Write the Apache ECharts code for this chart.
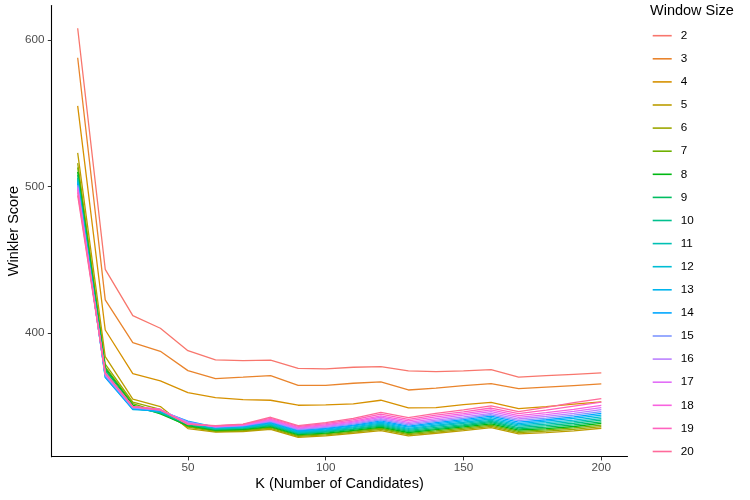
<!DOCTYPE html>
<html>
<head>
<meta charset="utf-8">
<script src="https://cdn.jsdelivr.net/npm/echarts@6/dist/echarts.min.js"></script>
<style>html,body{margin:0;padding:0;background:#fff}#c{width:750px;height:500px}</style>
</head>
<body>
<div id="c"></div>
<script>
const kValues = [10,20,30,40,50,60,70,80,90,100,110,120,130,140,150,160,170,180,190,200];
const windowSizes = ['2','3','4','5','6','7','8','9','10','11','12','13','14','15','16','17','18','19','20'];
const xTicks = [50,100,150,200];
const yTicks = [400,500,600];

const w2  = [608,443.6,412,403.4,388.1,381.8,381.3,381.6,376.1,375.7,376.8,377.2,374.3,373.8,374.3,375.2,370.0,371.1,372.0,372.9];
const w3  = [587.9,422.7,393.6,387.7,374.5,369.1,370.0,371.1,364.5,364.5,365.9,366.8,361.3,362.5,364.3,365.6,362.2,363.2,364.3,365.4];
const w4  = [555,402.2,372.5,367.5,359.5,356.1,354.7,354.3,350.9,351.1,351.8,354.3,349.1,349.3,351.3,352.9,348.6,350.0,351.6,353.2];
const w5  = [523,384,355,350,335,332.5,333,334.5,329,330,331.8,333.6,330,331.8,333.6,335.6,331.3,332.2,333.4,335.2];
const w6  = [516,379,353,348,336,333,333.5,335.2,329.6,330.7,332.5,334.4,330.8,332.6,334.5,336.5,332.2,333.2,334.4,336.3];
const w7  = [513,377,352,346,336.5,333.5,334,335.8,330.2,331.3,333.2,335.2,331.6,333.4,335.3,337.4,333.1,334.1,335.4,337.4];
const w8  = [510,376,351,345,337,334,334.5,336.3,330.8,331.9,333.8,335.9,332.3,334.2,336.1,338.2,334,335,336.4,338.5];
const w9  = [508,375,350,345.5,337.5,334.3,335,336.8,331.3,332.5,334.4,336.6,333,335,336.9,339,334.8,336,337.5,339.6];
const w10 = [506,374,349.5,346,338,334.6,335.3,337.3,331.8,333,335,337.3,333.7,335.8,337.7,339.8,335.7,337,338.6,340.7];
const w11 = [505,373,349,346,338.5,335,335.6,337.8,332.3,333.5,335.6,338,334.4,336.6,338.5,340.6,336.6,338,339.7,341.8];
const w12 = [504,371,348.5,346.5,339,335.3,336,338.3,332.8,334,336.2,338.7,335.1,337.4,339.3,341.5,337.5,339,340.8,343];
const w13 = [503,370,348,347,339.5,335.6,336.3,338.8,333.3,334.6,336.8,339.4,335.9,338.2,340.2,342.4,338.4,340,341.9,344.2];
const w14 = [502,370,348.5,347,340,336,336.6,339.3,333.8,335.2,337.4,340.2,336.7,339,341.1,343.4,339.4,341,343,345.4];
const w15 = [501,371,349,347.5,339.5,336,336.9,339.8,334.3,335.8,338,341,337.5,339.9,342,344.4,340.4,342.1,344.2,346.6];
const w16 = [500,372,349.5,347.5,339,336.2,337.2,340.3,334.8,336.4,338.7,341.8,338.3,340.8,343,345.4,341.5,343.3,345.4,347.9];
const w17 = [499,372,350,348,338.5,336.4,337.4,340.8,335.3,337,339.4,342.7,339.2,341.8,344.1,346.5,342.6,344.5,346.7,349.2];
const w18 = [498,373,350,348,338,336.6,337.6,341.3,335.8,337.6,340.1,343.6,340.2,342.9,345.2,347.7,343.8,345.8,348.1,350.8];
const w19 = [496,373,350,348,338,336.8,337.8,342,336.4,338.3,341,344.8,341.3,344.1,346.4,349,345.2,347.6,350.3,353];
const w20 = [494,373,350,347.5,338,337,338,342.7,337,339,342,346,342.5,345.4,347.7,350.4,346.6,349.5,352.7,355.4];

const seriesValues = [w2,w3,w4,w5,w6,w7,w8,w9,w10,w11,w12,w13,w14,w15,w16,w17,w18,w19,w20];
const colors = ['#F8766D','#E9842C','#D69100','#BC9D00','#9CA700','#6FB000','#00B813','#00BD61','#00C08E','#00C0B4','#00BDD4','#00B5EE','#00A7FF','#7F96FF','#BC81FF','#E26EF7','#F863DF','#FF62BF','#FF6A9A'];

const font = '"Liberation Sans", Arial, Helvetica, sans-serif';
const chart = echarts.init(document.getElementById('c'), null, {renderer: 'canvas'});

const series = windowSizes.map((name, i) => ({
  name: name,
  type: 'line',
  data: kValues.map((k, j) => [k, seriesValues[i][j]]),
  showSymbol: false,
  symbol: 'none',
  lineStyle: {width: 1.3, color: colors[i]},
  itemStyle: {color: colors[i]},
  emphasis: {disabled: true},
  animation: false
}));

chart.setOption({
  animation: false,
  color: colors,
  title: {
    text: 'Window Size',
    left: 650, top: 3.5, padding: 0,
    textStyle: {fontFamily: font, fontSize: 14.5, fontWeight: 'normal', color: '#000'}
  },
  legend: {
    orient: 'vertical',
    left: 652.7, top: 28.7, padding: 0,
    icon: 'rect',
    itemWidth: 19, itemHeight: 1.6,
    itemGap: 9.1,
    textStyle: {fontFamily: font, fontSize: 11.7, color: '#000', lineHeight: 14, padding: [0,0,0,4]},
    data: windowSizes,
    selectedMode: false
  },
  grid: {left: 51.5, right: 122.5, top: 5.5, bottom: 43.3, containLabel: false, outerBoundsMode: 'none'},
  xAxis: {
    type: 'value',
    min: 0.5, max: 209.5,
    name: 'K (Number of Candidates)',
    nameLocation: 'middle', nameGap: 20, nameMoveOverlap: false,
    nameTextStyle: {fontFamily: font, fontSize: 14.5, color: '#000'},
    axisLine: {show: true, lineStyle: {color: '#000', width: 1.1}},
    axisTick: {show: true, length: 3.7, customValues: xTicks, lineStyle: {color: '#333', width: 1}},
    axisLabel: {customValues: xTicks, margin: 5, fontFamily: font, fontSize: 11.7, color: '#4D4D4D'},
    splitLine: {show: false}
  },
  yAxis: {
    type: 'value',
    min: 315.8, max: 623.5,
    name: 'Winkler Score',
    nameLocation: 'middle', nameGap: 30, nameMoveOverlap: false,
    nameTextStyle: {fontFamily: font, fontSize: 14.5, color: '#000'},
    axisLine: {show: true, lineStyle: {color: '#000', width: 1.1}},
    axisTick: {show: true, length: 3.7, customValues: yTicks, lineStyle: {color: '#333', width: 1}},
    axisLabel: {customValues: yTicks, margin: 7, fontFamily: font, fontSize: 11.7, color: '#4D4D4D'},
    splitLine: {show: false}
  },
  series: series
});
</script>
</body>
</html>
